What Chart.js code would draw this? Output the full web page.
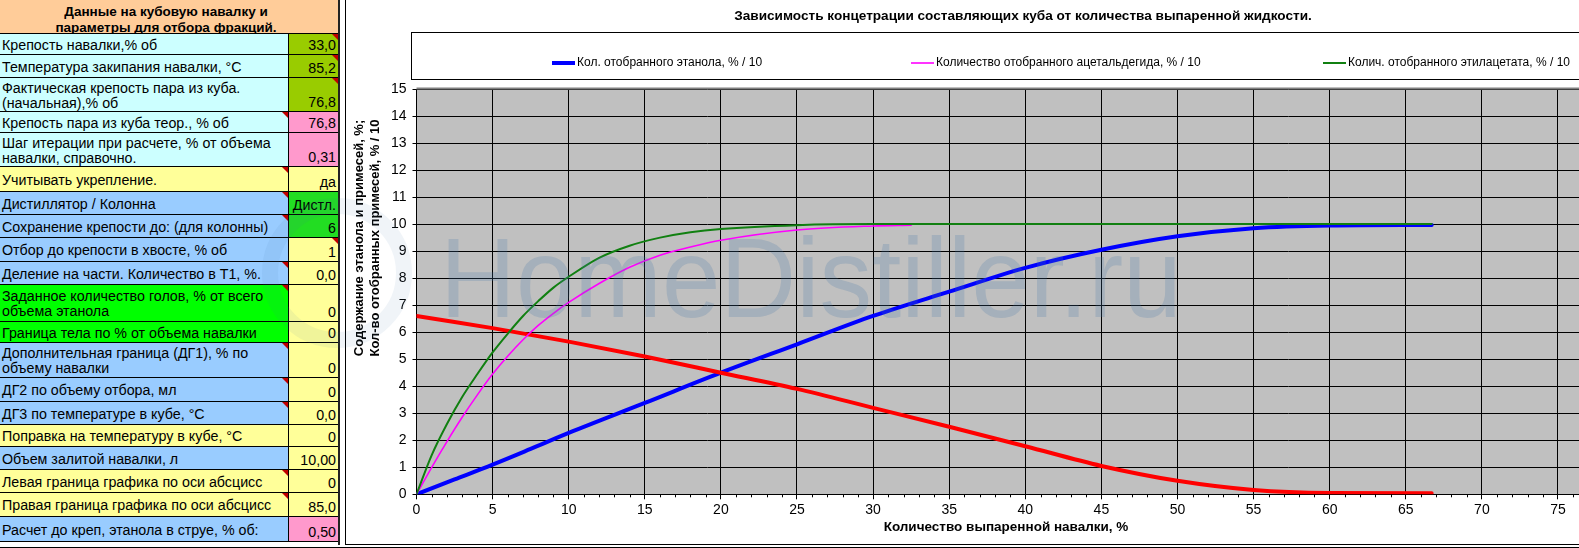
<!DOCTYPE html>
<html>
<head>
<meta charset="utf-8">
<script src="https://cdn.jsdelivr.net/npm/chart.js@4.4.1/dist/chart.umd.min.js"></script>
<style>
html, body { margin: 0; padding: 0; background: #fff; overflow: hidden; width: 1579px; height: 548px; }
body { position: relative; font-family: "Liberation Sans", Arial, sans-serif; }
#sheet { position: absolute; left: 0; top: 0; width: 340px; height: 548px; }
.cell { position: absolute; box-sizing: border-box; font-size: 14.25px; line-height: 15px; color: #000;
        border-bottom: 1px solid #000; overflow: hidden; white-space: nowrap; display: flex; }
.lab { padding-left: 2px; padding-top: 2px; align-items: center; }
.val { justify-content: flex-end; align-items: flex-end; padding-right: 2px; padding-bottom: 1px; border-left: 1px solid #000; }
.mark { position: absolute; right: 0; top: 0; width: 0; height: 0; border-top: 6px solid #c00000; border-left: 6px solid transparent; }
#head { position: absolute; left: 0; top: 0; width: 338px; height: 34px; background: #FFCC99; border-bottom: 1px solid #000;
        box-sizing: border-box; font-weight: bold; font-size: 13.5px; line-height: 16px; text-align: center; padding-top: 4px; padding-right: 6px; }
#rightEdge { position: absolute; left: 338px; top: 0; width: 2px; height: 545px; background: #222; }
#wrap { position: absolute; left: 345px; top: 0; width: 1234px; height: 548px; }
#frame { position: absolute; left: 345px; top: 0; width: 1234px; height: 545px; box-sizing: border-box;
         border-left: 1px solid #000; border-bottom: 1px solid #000; pointer-events: none; }
#bottomLine { position: absolute; left: 0; top: 547px; width: 1579px; height: 1px; background: #000; }
#mark { position: absolute; left: 440px; top: 222px; font-size: 113px; line-height: 112px; color: rgba(70,120,170,0.22);
        transform: scaleX(0.93); transform-origin: left top; pointer-events: none; white-space: nowrap; }
#ring { position: absolute; left: 262px; top: 198px; width: 150px; height: 150px; box-sizing: border-box; border-radius: 50%;
        border: 16px solid rgba(70,120,170,0.08); pointer-events: none; }
</style>
</head>
<body>
<div id="sheet"><div id="head">Данные на кубовую навалку и<br>параметры для отбора фракций.</div></div>
<div id="rightEdge"></div>
<div id="wrap"><canvas id="chart" width="1234" height="548"></canvas></div>
<div id="frame"></div>
<div id="bottomLine"></div>
<div id="ring"></div>
<div id="mark">HomeDistiller.ru</div>
<script>
/* данные графика */

const ethX = [0, 2.5, 5, 7.5, 10, 15, 20, 25, 30, 35, 40, 45, 50, 55, 60, 66.7];
const ethanolTaken = [0, 0.55, 1.1, 1.68, 2.27, 3.38, 4.5, 5.55, 6.6, 7.5, 8.38, 9.05, 9.55, 9.85, 9.95, 9.97];
const ethanolCube = [6.6, 6.38, 6.15, 5.9, 5.65, 5.1, 4.5, 3.9, 3.2, 2.5, 1.78, 1.05, 0.5, 0.16, 0.05, 0.04];

const acetX = [0, 1, 2, 3, 4, 5, 6, 7, 8, 9, 10, 12, 14, 16, 18, 20, 25, 30, 32.5];
const acetTaken = [0, 1.0, 1.95, 2.85, 3.68, 4.45, 5.12, 5.72, 6.25, 6.7, 7.1, 7.8, 8.4, 8.85, 9.15, 9.4, 9.78, 9.93, 9.96];

const ethylX = [0, 1, 2, 3, 4, 5, 6, 7, 8, 9, 10, 12, 14, 16, 18, 20, 25, 30, 40, 50, 66.7];
const ethylTaken = [0, 1.45, 2.6, 3.6, 4.45, 5.25, 5.95, 6.6, 7.15, 7.65, 8.05, 8.75, 9.2, 9.5, 9.7, 9.82, 9.96, 10, 10, 10, 10];

const seriesNames = ['Кол. отобранного этанола, % / 10', 'Количество отобранного ацетальдегида, % / 10',
                     'Колич. отобранного этилацетата, % / 10', 'Крепость в кубе, % / 10'];
const titleText = 'Зависимость концетрации составляющих куба от количества выпаренной жидкости.';
const xTitle = 'Количество выпаренной навалки, %';
const yTitle = ['Содержание этанола и примесей, %;', 'Кол-во отобранных примесей, % / 10'];

/* таблица параметров */

const C = '#CCFFFF', B = '#99CCFF', Y = '#FFFF99', G = '#00FF00', G2 = '#22DD22', O = '#99CC00', P = '#FF99CC';
const rowLines = [34, 55, 78, 112, 133, 167, 192, 215, 238, 262, 285, 322, 343, 378, 402, 425, 447, 470, 493, 517, 542];
const rows = [
    ['Крепость навалки,% об', '33,0', C, O, 0, 1],
    ['Температура закипания навалки, °C', '85,2', C, O, 0, 1],
    ['Фактическая крепость пара из куба.<br>(начальная),% об', '76,8', C, O, 0, 1],
    ['Крепость пара из куба теор., % об', '76,8', C, P, 1, 0],
    ['Шаг итерации при расчете, % от объема<br>навалки, справочно.', '0,31', C, P, 0, 0],
    ['Учитывать укрепление.', 'да', Y, Y, 1, 0],
    ['Дистиллятор / Колонна', 'Дистл.', B, G2, 1, 0],
    ['Сохранение крепости до: (для колонны)', '6', B, G2, 1, 0],
    ['Отбор до крепости в хвосте, % об', '1', B, Y, 0, 1],
    ['Деление на части. Количество в Т1, %.', '0,0', B, Y, 1, 0],
    ['Заданное количество голов, % от всего<br>объема этанола', '0', G, Y, 1, 0],
    ['Граница тела по % от объема навалки', '0', G, Y, 0, 0],
    ['Дополнительная граница (ДГ1), % по<br>объему навалки', '0', B, Y, 1, 0],
    ['ДГ2 по объему отбора, мл', '0', B, Y, 1, 0],
    ['ДГ3 по температуре в кубе, °C', '0,0', B, Y, 1, 0],
    ['Поправка на температуру в кубе, °C', '0', Y, Y, 0, 0],
    ['Объем залитой навалки, л', '10,00', B, Y, 0, 0],
    ['Левая граница графика по оси абсцисс', '0', Y, Y, 1, 0],
    ['Правая граница графика по оси абсцисс', '85,0', Y, Y, 1, 0],
    ['Расчет до креп, этанола в струе, % об:', '0,50', B, P, 0, 0]
];

const sheet = document.getElementById('sheet');
rows.forEach(function (r, i) {
    const top = rowLines[i], h = rowLines[i + 1] - rowLines[i];
    const lab = document.createElement('div');
    lab.className = 'cell lab';
    lab.style.cssText = 'left:0;width:288px;top:' + top + 'px;height:' + h + 'px;background:' + r[2];
    lab.innerHTML = '<span>' + r[0] + '</span>' + (r[4] ? '<i class="mark"></i>' : '');
    const val = document.createElement('div');
    val.className = 'cell val';
    val.style.cssText = 'left:288px;width:50px;top:' + top + 'px;height:' + h + 'px;background:' + r[3];
    val.innerHTML = '<span>' + r[1] + '</span>' + (r[5] ? '<i class="mark"></i>' : '');
    sheet.appendChild(lab);
    sheet.appendChild(val);
});

/* график */

function pairs(xs, ys) {
    return xs.map(function (x, i) { return { x: x, y: ys[i] }; });
}

const legendX = [207, 566, 978];   // начало образца линии, от левого края холста
const legendY = 63;

const decor = {
    id: 'decor',
    beforeDraw(chart) {
        const a = chart.chartArea, ctx = chart.ctx;
        ctx.save();
        ctx.fillStyle = '#C0C0C0';
        ctx.fillRect(a.left, a.top, a.right - a.left, a.bottom - a.top);
        ctx.restore();
    },
    afterDraw(chart) {
        const a = chart.chartArea, ctx = chart.ctx;
        const xs = chart.scales.x;
        ctx.save();

        // верхняя граница области построения
        ctx.strokeStyle = '#808080';
        ctx.lineWidth = 2;
        ctx.beginPath(); ctx.moveTo(a.left, a.top - 0.5); ctx.lineTo(a.right, a.top - 0.5); ctx.stroke();

        // промежуточные деления оси X
        ctx.strokeStyle = '#000';
        ctx.lineWidth = 1;
        ctx.beginPath();
        for (let v = 1; v < xs.max; v++) {
            if (v % 5 === 0) continue;
            const px = Math.round(xs.getPixelForValue(v)) + 0.5;
            ctx.moveTo(px, a.bottom); ctx.lineTo(px, a.bottom + 3);
        }
        ctx.stroke();

        // заголовок
        ctx.fillStyle = '#000';
        ctx.font = 'bold 13.6px "Liberation Sans", Arial';
        ctx.textAlign = 'center';
        ctx.textBaseline = 'middle';
        ctx.fillText(titleText, 678, 16);

        // подпись оси X
        ctx.font = 'bold 13.5px "Liberation Sans", Arial';
        ctx.fillText(xTitle, 661, 527);

        // подпись оси Y
        ctx.font = 'bold 13px "Liberation Sans", Arial';
        ctx.save();
        ctx.translate(14, 238);
        ctx.rotate(-Math.PI / 2);
        ctx.fillText(yTitle[0], 0, 0);
        ctx.fillText(yTitle[1], 0, 16);
        ctx.restore();

        // легенда
        ctx.strokeStyle = '#000';
        ctx.lineWidth = 1;
        ctx.strokeRect(66.5, 32.5, 1300, 47);
        ctx.font = '12px "Liberation Sans", Arial';
        ctx.textAlign = 'left';
        for (let i = 0; i < 3; i++) {
            const ds = chart.data.datasets[i];
            ctx.strokeStyle = ds.borderColor;
            ctx.lineWidth = ds.borderWidth;
            ctx.beginPath(); ctx.moveTo(legendX[i], legendY); ctx.lineTo(legendX[i] + 23, legendY); ctx.stroke();
            ctx.fillStyle = '#000';
            ctx.fillText(ds.label, legendX[i] + 25, legendY);
        }
        ctx.restore();
    }
};

const ctx = document.getElementById('chart');

const chart1 = new Chart(ctx, {
    type: 'line',
    data: {
        datasets: [
            { label: seriesNames[0], data: pairs(ethX, ethanolTaken), borderColor: '#0000FF', borderWidth: 4, order: 3 },
            { label: seriesNames[1], data: pairs(acetX, acetTaken), borderColor: '#FF00FF', borderWidth: 1.6, order: 1 },
            { label: seriesNames[2], data: pairs(ethylX, ethylTaken), borderColor: '#118011', borderWidth: 2, order: 0 },
            { label: seriesNames[3], data: pairs(ethX, ethanolCube), borderColor: '#FF0000', borderWidth: 4, order: 2 }
        ]
    },
    options: {
        responsive: false,
        animation: false,
        devicePixelRatio: 1,
        layout: { padding: { top: 89, left: 0, right: 0, bottom: 0 } },
        elements: {
            point: { radius: 0 },
            line: { cubicInterpolationMode: 'monotone', fill: false, borderCapStyle: 'round' }
        },
        plugins: { legend: { display: false }, title: { display: false }, tooltip: { enabled: false } },
        scales: {
            x: {
                type: 'linear', min: 0, max: 76.38,
                ticks: { stepSize: 5, includeBounds: false, color: '#000', padding: 2,
                         font: { family: '"Liberation Sans", Arial', size: 14 } },
                grid: { color: '#000', lineWidth: 1, tickLength: 5, tickColor: '#000' },
                border: { color: '#000', width: 1 },
                afterFit: function (s) { s.height = 53.7; }
            },
            y: {
                type: 'linear', min: 0, max: 15,
                ticks: { stepSize: 1, color: '#000', padding: 6,
                         font: { family: '"Liberation Sans", Arial', size: 14 } },
                grid: { color: '#000', lineWidth: 1, tickLength: 4, tickColor: '#000' },
                border: { color: '#000', width: 1 },
                afterFit: function (s) { s.width = 71.5; }
            }
        }
    },
    plugins: [decor]
});
</script>
</body>
</html>
